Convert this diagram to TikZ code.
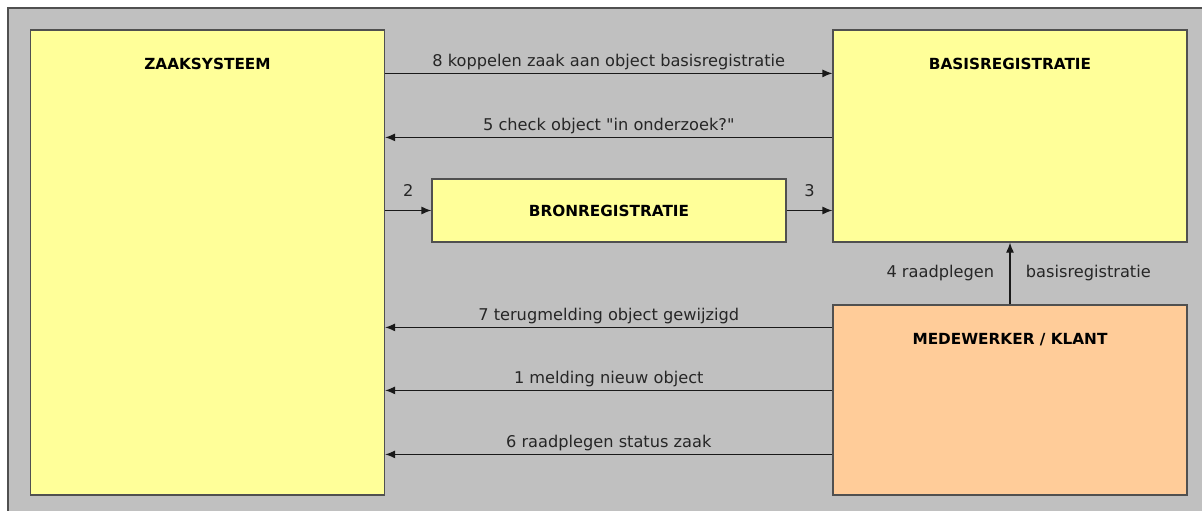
\documentclass[tikz,border=0pt]{standalone}
\usepackage{fontspec}
\setmainfont{DejaVu Sans}
\usetikzlibrary{positioning,arrows.meta}

\definecolor{achtergrond}{HTML}{C0C0C0}
\definecolor{geel}{HTML}{FFFF99}
\definecolor{oranje}{HTML}{FFCC99}
\definecolor{rand}{HTML}{505050}

\begin{document}
\begin{tikzpicture}[x=1pt, y=-1pt, >={Latex[length=10pt,width=8pt]},
    blok/.style={draw=rand, line width=1.2pt, minimum width=354pt, inner sep=0pt},
    titel/.style={font=\fontsize{15.3}{17}\selectfont\bfseries, inner sep=0pt},
    tekst/.style={font=\fontsize{16.2}{18}\selectfont, text=black!85},
    pijl/.style={->, line width=1.2pt, black!90}]

        \useasboundingbox (0,0) rectangle (1202,511);

        % Grey background with frame
        \fill[achtergrond] (8,8) rectangle (1202,511);
        \draw[rand, line width=1.5pt] (8,511) -- (8,8) -- (1202,8);

        % Boxes
        \node[blok, fill=geel, minimum height=465pt] (zaak) at (207.5,262.5) {};
        \node[blok, fill=geel, minimum height=212pt] (basis) at (1010,136) {};
        \node[blok, fill=geel, minimum height=63pt] (bron) at (609,210.5) {\fontsize{15.3}{17}\selectfont\bfseries BRONREGISTRATIE};
        \node[blok, fill=oranje, minimum height=190pt] (mdw) at (1010,400) {};

        % Titles inside the boxes
        \node[titel, below=28.5pt of zaak.north] (zaaktitel) {ZAAKSYSTEEM};
        \node[titel, below=28.5pt of basis.north] (basistitel) {BASISREGISTRATIE};
        \node[titel, below=28.5pt of mdw.north] (mdwtitel) {MEDEWERKER / KLANT};

        % Arrows between zaaksysteem and basisregistratie
        \draw[pijl] ([yshift=-44pt]zaak.north east) -- ([yshift=-44pt]basis.north west)
            node[tekst, midway, above=0pt] {8 koppelen zaak aan object basisregistratie};
        \draw[pijl] ([yshift=-108pt]basis.north west) -- ([yshift=-108pt]zaak.north east)
            node[tekst, midway, above=0pt] {5 check object \textquotedbl in onderzoek?\textquotedbl};

        % Via bronregistratie
        \draw[pijl] (zaak.east |- bron.west) -- (bron.west)
            node[tekst, pos=0.5, above=10pt] {2};
        \draw[pijl] (bron.east) -- (bron.east -| basis.west)
            node[tekst, pos=0.5, above=10pt] {3};

        % Medewerker raadpleegt basisregistratie
        \draw[pijl] (mdw.north) -- (basis.south)
            node[tekst, midway, left=12pt] {4 raadplegen}
            node[tekst, midway, right=12pt] {basisregistratie};

        % Arrows from medewerker to zaaksysteem
        \draw[pijl] ([yshift=-23pt]mdw.north west) -- ([yshift=-23pt]mdw.north west -| zaak.east)
            node[tekst, midway, above=0pt] {7 terugmelding object gewijzigd};
        \draw[pijl] ([yshift=-86pt]mdw.north west) -- ([yshift=-86pt]mdw.north west -| zaak.east)
            node[tekst, midway, above=0pt] {1 melding nieuw object};
        \draw[pijl] ([yshift=-150pt]mdw.north west) -- ([yshift=-150pt]mdw.north west -| zaak.east)
            node[tekst, midway, above=0pt] {6 raadplegen status zaak};

        \end{tikzpicture}
\end{document}
